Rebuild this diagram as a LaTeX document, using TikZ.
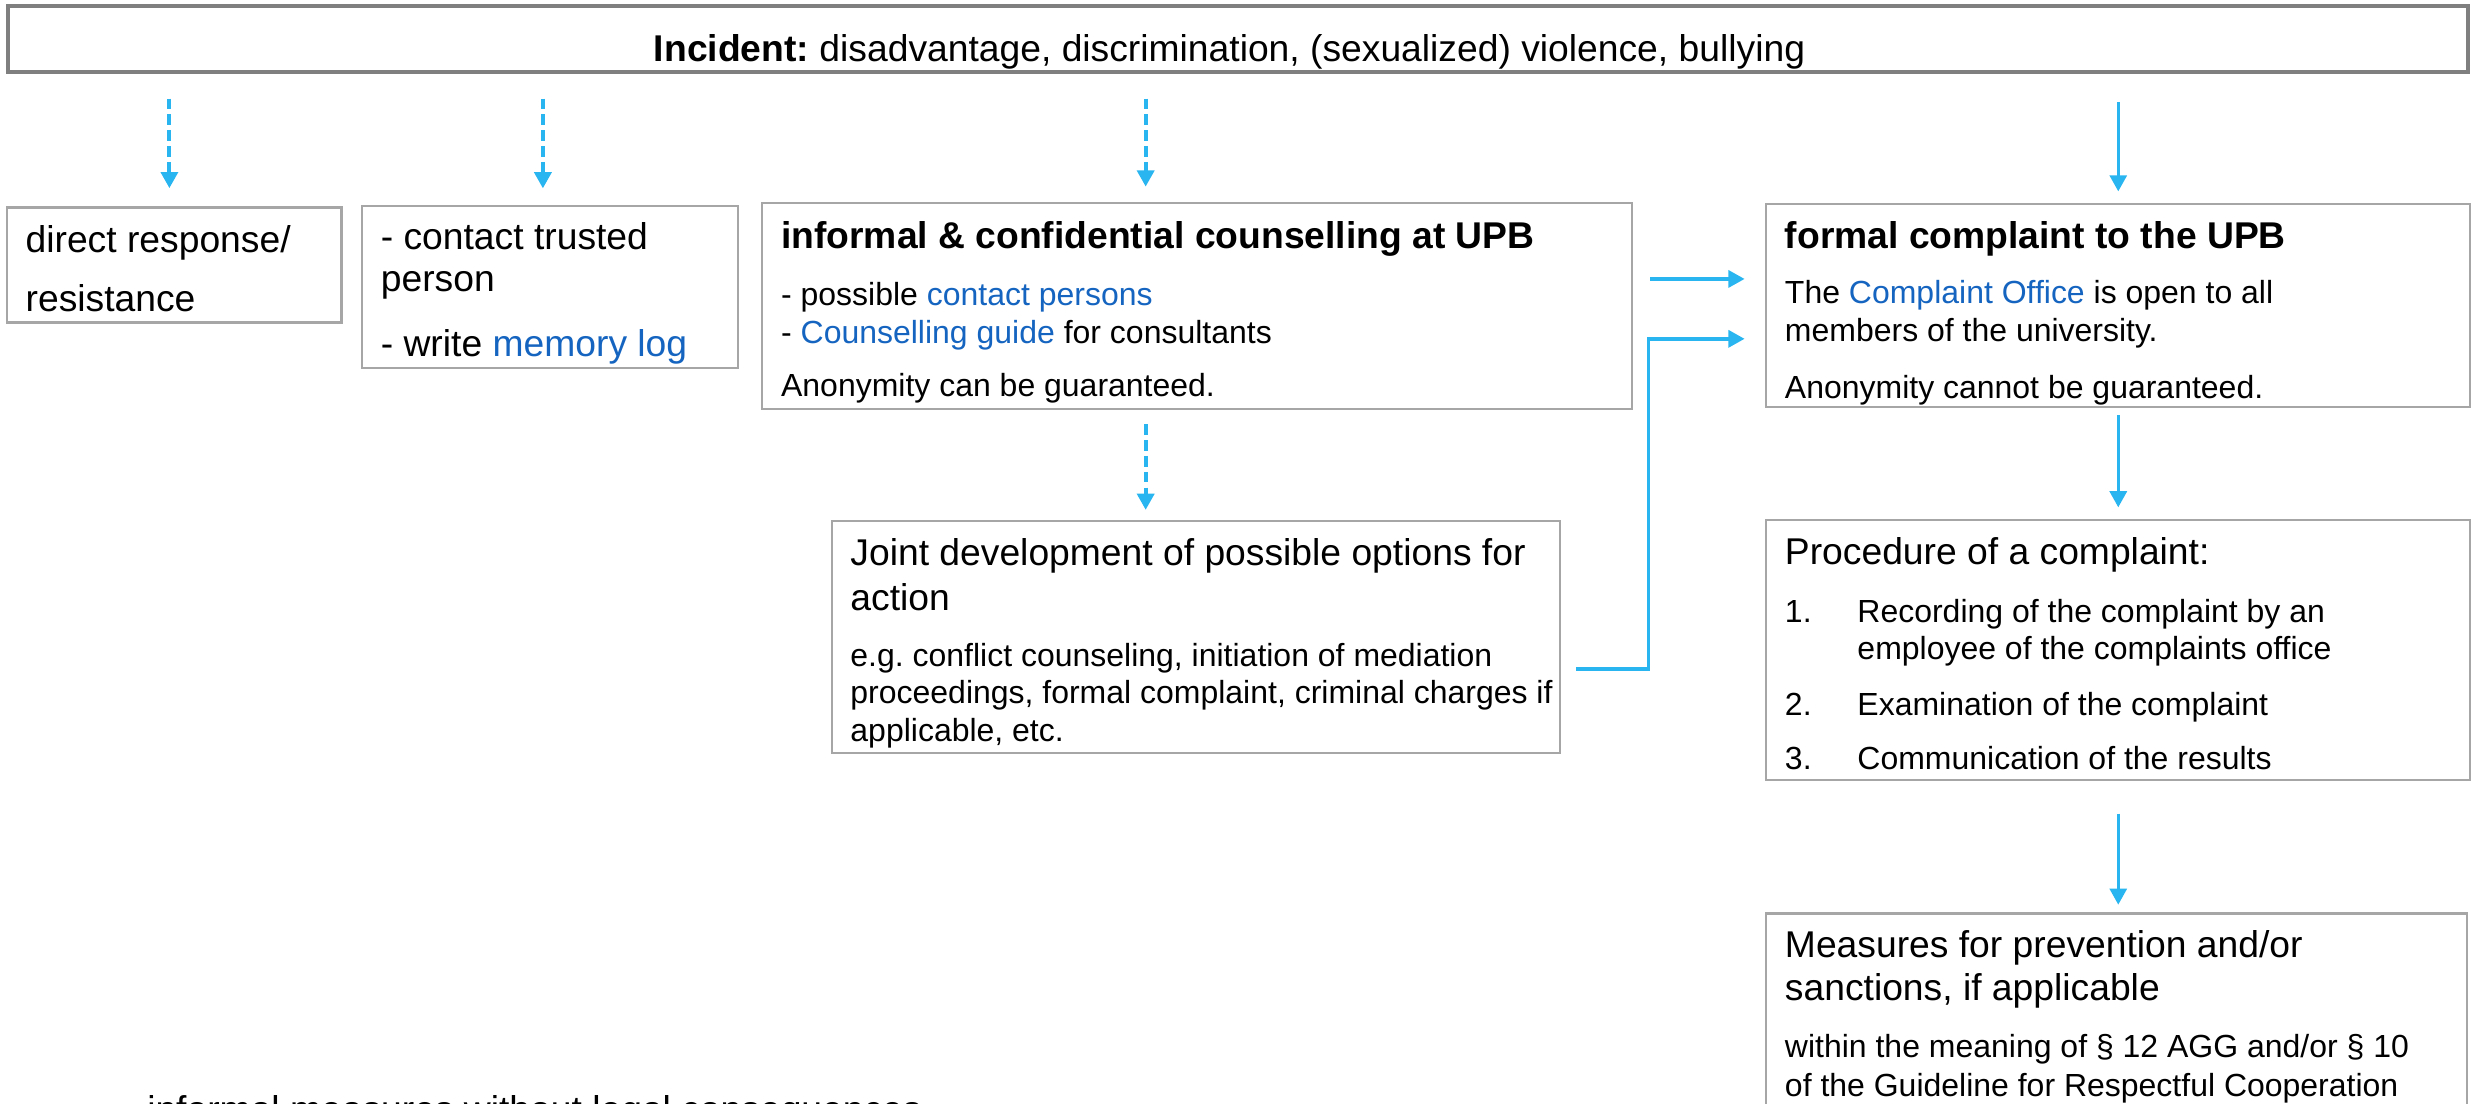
\documentclass[tikz,border=0pt]{standalone}
\usepackage{fontspec}
\setmainfont{Liberation Sans}
\usetikzlibrary{arrows.meta}
\frenchspacing

\newlength{\pxu}\setlength{\pxu}{0.1576mm}
\definecolor{framegray}{RGB}{166,166,166}
\definecolor{bargray}{RGB}{127,127,127}
\definecolor{flowblue}{RGB}{41,182,240}
\definecolor{linkblue}{RGB}{21,101,192}

\newcommand{\largefnt}{\fontsize{10.6pt}{12pt}\selectfont}
\newcommand{\smallfnt}{\fontsize{9.1pt}{11pt}\selectfont}
\newcommand{\weblink}[1]{\textcolor{linkblue}{#1}}
\newcommand{\numitem}[1]{\hbox to 46\pxu{#1\hfil}}
% box of fixed size, lines placed baseline to baseline
\newcommand{\boxtext}[3]{\begin{minipage}[t][#2\pxu][t]{#1\pxu}%
  \baselineskip=0pt \lineskip=0pt \lineskiplimit=-\maxdimen \parskip=0pt
  \hbox to\hsize{}#3\end{minipage}}
\newcommand{\tline}[2]{\vspace{#1\pxu}\hbox to\hsize{\hskip12\pxu #2\hfil}}

\tikzset{
  box/.style={draw=framegray, line width=0.6pt, inner sep=0pt, anchor=north west},
  bar/.style={box, draw=bargray, line width=1.1pt},
  flow/.style={draw=flowblue, line width=1pt, -{Triangle[width=4.8pt,length=4.6pt]}},
  informal/.style={flow, line width=1.1pt, dash pattern=on 3pt off 1.5pt}
}

\begin{document}
\begin{tikzpicture}[x=0.1576mm, y=-0.1576mm]
  \path[use as bounding box, fill=white] (0,0) rectangle (1568,700.5);

  \node[bar] (inc) at (4,2.5) {\boxtext{1561}{42}{\vspace{35.5\pxu}%
    \hbox to 1561\pxu{\hfil\largefnt\textbf{Incident:} disadvantage, discrimination, (sexualized) violence, bullying\hfil\hskip11\pxu}}};

  \node[box] (resp) at (3.6,131) {\boxtext{212.4}{73}{%
    \tline{28.7}{\largefnt direct response/}
    \tline{37}{\largefnt resistance}}};

  \node[box] (trust) at (229,130) {\boxtext{238.6}{102.7}{%
    \tline{27.6}{\largefnt - contact trusted}
    \tline{26.4}{\largefnt person}
    \tline{41.3}{\largefnt - write \weblink{memory log}}}};

  \node[box] (info) at (483,128) {\boxtext{552}{131}{%
    \tline{29}{\largefnt\bfseries informal \& confidential counselling at UPB}
    \tline{36}{\smallfnt - possible \weblink{contact persons}}
    \tline{24.5}{\smallfnt - \weblink{Counselling guide} for consultants}
    \tline{33.5}{\smallfnt Anonymity can be guaranteed.}}};

  \node[box] (joint) at (527,330) {\boxtext{462}{147}{%
    \tline{28}{\largefnt Joint development of possible options for}
    \tline{29}{\largefnt action}
    \tline{35}{\smallfnt e.g. conflict counseling, initiation of mediation}
    \tline{23.5}{\smallfnt proceedings, formal complaint, criminal charges if}
    \tline{24.5}{\smallfnt applicable, etc.}}};

  \node[box] (formal) at (1120,128.6) {\boxtext{447}{129}{%
    \tline{28.7}{\largefnt\bfseries formal complaint to the UPB}
    \tline{34.7}{\smallfnt The \weblink{Complaint Office} is open to all}
    \tline{24.3}{\smallfnt members of the university.}
    \tline{36.1}{\smallfnt Anonymity cannot be guaranteed.}}};

  \node[box] (proc) at (1120,329.3) {\boxtext{447}{164.7}{%
    \tline{28.3}{\largefnt Procedure of a complaint:}
    \tline{36.8}{\smallfnt\numitem{1.}Recording of the complaint by an}
    \tline{23.4}{\smallfnt\hskip46\pxu employee of the complaints office}
    \tline{35.6}{\smallfnt\numitem{2.}Examination of the complaint}
    \tline{34.4}{\smallfnt\numitem{3.}Communication of the results}}};

  \node[box] (meas) at (1120,579) {\boxtext{445}{140}{%
    \tline{28}{\largefnt Measures for prevention and/or}
    \tline{27.5}{\largefnt sanctions, if applicable}
    \tline{36}{\smallfnt within the meaning of § 12 AGG and/or § 10}
    \tline{24.3}{\smallfnt of the Guideline for Respectful Cooperation}}};

  \node[anchor=base west, inner sep=0pt, font=\largefnt] (legend) at (93,712)
    {informal measures without legal consequences};

  % informal ways
  \foreach \ax/\dst/\gap in {107.5/resp/5.2pt, 344.5/trust/4.7pt, 727/info/4.3pt}
    \draw[informal, shorten <=7pt, shorten >=\gap] (inc.south -| \ax,0) -- (\dst.north -| \ax,0);
  \draw[informal, shorten <=4pt, shorten >=2.9pt] (info.south -| 727,0) -- (joint.north -| 727,0);

  % formal way
  \draw[flow, shorten <=7.9pt, shorten >=3.2pt] (inc.south -| formal.north) -- (formal.north);
  \draw[flow, shorten <=2.1pt, shorten >=3.3pt] (formal.south) -- (proc.north);
  \draw[flow, shorten <=9.4pt, shorten >=2.2pt] (proc.south) -- (meas.north -| proc.south);
  \draw[flow, shorten <=4.9pt, shorten >=5.8pt] (info.east |- 0,177) -- (formal.west |- 0,177);
  \coordinate (bend) at (1046,424.5);
  \draw[flow, shorten <=4.5pt, shorten >=5.8pt] (joint.east |- bend) -| (bend |- 0,215) -- (formal.west |- 0,215);
\end{tikzpicture}
\end{document}
